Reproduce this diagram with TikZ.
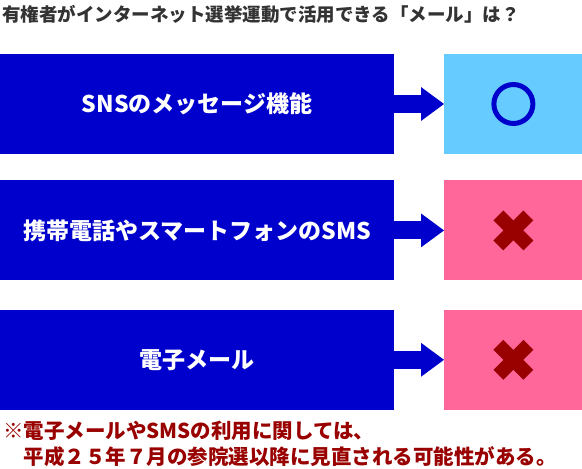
\documentclass[tikz,border=0pt]{standalone}
\usepackage{fontspec}
\setmainfont{Noto Sans CJK JP}
\usetikzlibrary{positioning, arrows.meta}
\definecolor{boxblue}{HTML}{0000CC}
\definecolor{okblue}{HTML}{66CCFF}
\definecolor{ngpink}{HTML}{FF6699}
\definecolor{ngred}{HTML}{990000}

\begin{document}
\begin{tikzpicture}[x=1pt, y=1pt, node distance=26pt and 50pt]
    \tikzstyle{medium} = [rectangle, minimum width=394pt, minimum height=100pt, inner sep=0pt, fill=boxblue, text=white, font=\bfseries\fontsize{23}{27}\selectfont]
    \tikzstyle{verdict} = [rectangle, minimum width=138pt, minimum height=100pt, inner sep=0pt]
    \tikzstyle{arrow} = [boxblue, line width=18pt, -{Triangle[length=23pt, width=32pt]}]
    \tikzstyle{crossbar} = [ngred, line width=14pt]
    \useasboundingbox (0,0) rectangle (582,-469);

    % Nodes
    \node (m_title) [anchor=west, inner sep=0pt, text=black!80, font=\bfseries\fontsize{18.5}{22}\selectfont] at (2,-14) {有権者がインターネット選挙運動で活用できる「メール」は？};
    \node (m_sns) [medium] at (197,-104) {SNSのメッセージ機能};
    \node (m_sms) [medium, below=26pt of m_sns] {携帯電話やスマートフォンのSMS};
    \node (m_mail) [medium, below=29pt of m_sms] {電子メール};
    \node (v_sns) [verdict, fill=okblue, right=50pt of m_sns] {};
    \node (v_sms) [verdict, fill=ngpink, right=50pt of m_sms] {};
    \node (v_mail) [verdict, fill=ngpink, right=50pt of m_mail] {};
    \node (m_note) [anchor=north west, inner sep=0pt, align=left, text=ngred, font=\bfseries\fontsize{20.5}{26}\selectfont] at (3,-421) {※電子メールやSMSの利用に関しては、\\　平成２５年７月の参院選以降に見直される可能性がある。};

    % Marks
    \draw [boxblue, line width=5pt] (v_sns.center) circle (19.5pt);
    \foreach \v in {v_sms, v_mail} {
        \draw [crossbar] ([shift={(-15,-15)}]\v.center) -- ([shift={(15,15)}]\v.center);
        \draw [crossbar] ([shift={(-15,15)}]\v.center) -- ([shift={(15,-15)}]\v.center);
    }

    % Arrows
    \draw [arrow] (m_sns) -- (v_sns);
    \draw [arrow] (m_sms) -- (v_sms);
    \draw [arrow] (m_mail) -- (v_mail);
\end{tikzpicture}
\end{document}
